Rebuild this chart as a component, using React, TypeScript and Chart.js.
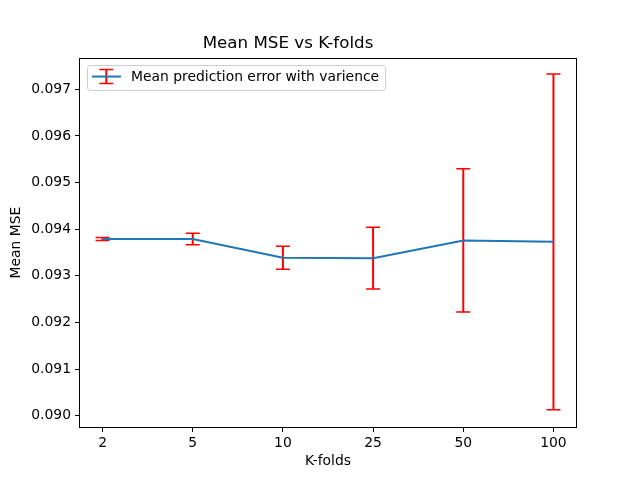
import React, { useEffect, useRef } from "react";
import { Chart, registerables } from "chart.js";

Chart.register(...registerables);

// K-fold settings on the x axis
const kFolds = ["2", "5", "10", "25", "50", "100"];
// mean MSE for each k
const meanMse = [0.09379, 0.09379, 0.09339, 0.09338, 0.09376, 0.09373];
// +/- spread drawn as error bars
const mseErr = [0.00003, 0.000125, 0.000246, 0.00066, 0.001536, 0.0036];
// y tick labels
const yTicks = [0.09, 0.091, 0.092, 0.093, 0.094, 0.095, 0.096, 0.097];

const seriesLabel = "Mean prediction error with varience";
const FONT = "DejaVu Sans";
const LINE_BLUE = "#1f77b4";

// draws a vertical red bar with two caps
function drawErrBar(ctx: CanvasRenderingContext2D, px: number, top: number, bot: number) {
  ctx.strokeStyle = "#ff0000";
  ctx.lineWidth = 2;
  ctx.beginPath();
  ctx.moveTo(px, top);
  ctx.lineTo(px, bot);
  ctx.stroke();
  ctx.lineWidth = 1.5;
  ctx.beginPath();
  ctx.moveTo(px - 7, top);
  ctx.lineTo(px + 7, top);
  ctx.moveTo(px - 7, bot);
  ctx.lineTo(px + 7, bot);
  ctx.stroke();
}

const errorBars = {
  id: "errorBars",
  beforeDatasetsDraw(chart: any) {
    const { ctx, scales } = chart;
    const xs = scales.x;
    const ys = scales.y;
    ctx.save();
    meanMse.forEach((m, i) => {
      const px = xs.getPixelForValue(i);
      drawErrBar(ctx, px, ys.getPixelForValue(m + mseErr[i]), ys.getPixelForValue(m - mseErr[i]));
    });
    ctx.restore();
  },
};

const frameAndLegend = {
  id: "frameAndLegend",
  afterDraw(chart: any) {
    const { ctx, chartArea } = chart;
    const { left, top, right, bottom } = chartArea;
    ctx.save();
    // axes frame
    ctx.strokeStyle = "#000";
    ctx.lineWidth = 1;
    ctx.strokeRect(Math.round(left) - 0.5, Math.round(top) + 0.5, Math.round(right - left) + 1, Math.round(bottom - top));

    // legend
    ctx.font = `13.9px "${FONT}"`;
    const tw = ctx.measureText(seriesLabel).width;
    const bx = left + 7;
    const by = top + 7;
    const bw = 44 + tw + 6;
    const bh = 25;
    ctx.beginPath();
    ctx.roundRect(bx + 0.5, by + 0.5, bw, bh, 3);
    ctx.fillStyle = "rgba(255,255,255,0.8)";
    ctx.fill();
    ctx.strokeStyle = "#cccccc";
    ctx.lineWidth = 1;
    ctx.stroke();

    const cy = by + 11.5;
    const hx = bx + 19.3;
    drawErrBar(ctx, hx, cy - 7, cy + 7);
    ctx.strokeStyle = LINE_BLUE;
    ctx.lineWidth = 2;
    ctx.beginPath();
    ctx.moveTo(bx + 5, cy);
    ctx.lineTo(bx + 34, cy);
    ctx.stroke();

    ctx.fillStyle = "#000";
    ctx.textBaseline = "middle";
    ctx.textAlign = "left";
    ctx.fillText(seriesLabel, bx + 44, cy + 0.5);
    ctx.restore();
  },
};

const App = () => {
  const chartRef = useRef<HTMLCanvasElement>(null);

  useEffect(() => {
    document.body.style.margin = "0";
    if (!chartRef.current) return;
    const ctx = chartRef.current.getContext("2d");
    if (!ctx) return;
    Chart.defaults.color = "#000";
    Chart.defaults.font.family = FONT;

    const chart = new Chart(ctx, {
      type: "line",
      data: {
        datasets: [
          {
            label: seriesLabel,
            data: meanMse.map((y, i) => ({ x: i, y })),
            borderColor: LINE_BLUE,
            backgroundColor: LINE_BLUE,
            borderWidth: 2,
            pointRadius: 0,
            tension: 0,
          },
        ],
      },
      options: {
        animation: false,
        responsive: false,
        devicePixelRatio: 1,
        layout: { padding: { left: 0, right: 64, top: 0, bottom: 0 } },
        plugins: {
          legend: { display: false },
          tooltip: { enabled: false },
          title: {
            display: true,
            text: "Mean MSE vs K-folds",
            color: "#000",
            font: { family: FONT, size: 16.7, weight: "normal" },
            padding: { top: 34, bottom: 4 },
          },
        },
        scales: {
          x: {
            type: "linear",
            min: -0.25,
            max: 5.25,
            afterBuildTicks: (s: any) => {
              s.ticks = kFolds.map((_, i) => ({ value: i }));
            },
            afterFit: (s: any) => {
              s.height = 53;
            },
            ticks: {
              callback: (v: any) => kFolds[v],
              font: { family: FONT, size: 13.9 },
              color: "#000",
              padding: 3,
              maxRotation: 0,
            },
            grid: { drawOnChartArea: false, color: "#000", tickLength: 5 },
            border: { display: false },
            title: {
              display: true,
              text: "K-folds",
              color: "#000",
              font: { family: FONT, size: 13.9 },
              padding: { top: 0, bottom: 10 },
            },
          },
          y: {
            type: "linear",
            min: 0.08976,
            max: 0.09767,
            afterBuildTicks: (s: any) => {
              s.ticks = yTicks.map((v) => ({ value: v }));
            },
            afterFit: (s: any) => {
              s.width = 80;
            },
            ticks: {
              callback: (v: any) => Number(v).toFixed(3),
              font: { family: FONT, size: 13.9 },
              color: "#000",
              padding: 4,
            },
            grid: { drawOnChartArea: false, color: "#000", tickLength: 5 },
            border: { display: false },
            title: {
              display: true,
              text: "Mean MSE",
              color: "#000",
              font: { family: FONT, size: 13.9 },
              padding: { top: 8, bottom: 0 },
            },
          },
        },
      },
      plugins: [errorBars, frameAndLegend],
    });

    return () => {
      chart.destroy();
    };
  }, []);

  return (
    <div style={{ width: 640, height: 480, background: "#fff" }}>
      <canvas ref={chartRef} width={640} height={480} />
    </div>
  );
};

export default App;
